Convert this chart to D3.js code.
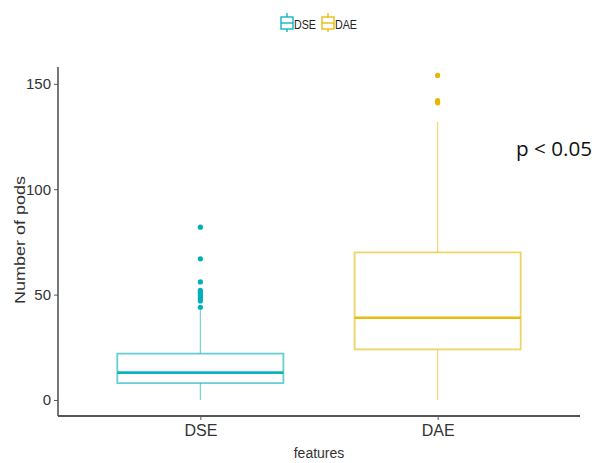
<!DOCTYPE html>
<html>
<head>
<meta charset="utf-8">
<script src="https://cdn.jsdelivr.net/npm/d3@7"></script>
<style>
  html, body { margin: 0; padding: 0; background: #fff; }
  svg { display: block; }
</style>
</head>
<body>
<svg id="chart" width="592" height="463"></svg>
<script>
// Summary statistics per group
const categories = ["DSE", "DAE"];
const colors = ["#00AFBB", "#E7B800"];
const whiskerLow = [0, 0];
const q1 = [8, 24];
const median = [13, 39];
const q3 = [22, 70];
const whiskerHigh = [43, 132];
const outliers = [
  [44, 47, 48, 49, 50, 51, 52, 56, 67, 82],
  [141, 142, 154]
];
const yTicks = [0, 50, 100, 150];

const svg = d3.select("#chart");
const plotLeft = 58, plotRight = 580, plotTop = 67, plotBottom = 416;

const x = d3.scalePoint().domain(categories).range([plotLeft, plotRight]).padding(0.6);
const y = d3.scaleLinear().domain([-7.6, 158]).range([plotBottom, plotTop]);
const boxW = x.step() * 0.7;

const sans = "'Liberation Sans', Arial, sans-serif";

// Boxes
categories.forEach((c, i) => {
  const cx = x(c);
  const g = svg.append("g").attr("stroke", colors[i]).attr("fill", "none");
  // whiskers
  g.append("line").attr("x1", cx).attr("x2", cx)
    .attr("y1", y(q3[i])).attr("y2", y(whiskerHigh[i]))
    .attr("stroke-width", 1.2).attr("stroke-opacity", 0.55);
  g.append("line").attr("x1", cx).attr("x2", cx)
    .attr("y1", y(q1[i])).attr("y2", y(whiskerLow[i]))
    .attr("stroke-width", 1.2).attr("stroke-opacity", 0.55);
  // box
  g.append("rect")
    .attr("x", cx - boxW / 2).attr("width", boxW)
    .attr("y", y(q3[i])).attr("height", y(q1[i]) - y(q3[i]))
    .attr("stroke-width", 1.8).attr("stroke-opacity", 0.6);
  // median
  g.append("line")
    .attr("x1", cx - boxW / 2).attr("x2", cx + boxW / 2)
    .attr("y1", y(median[i])).attr("y2", y(median[i]))
    .attr("stroke-width", 2.6).attr("stroke-opacity", 0.95);
  // outliers
  svg.append("g").selectAll("circle").data(outliers[i]).join("circle")
    .attr("cx", cx).attr("cy", d => y(d)).attr("r", 2.6)
    .attr("fill", colors[i]);
});

// Y axis
const yAxis = svg.append("g").attr("transform", `translate(${plotLeft},0)`)
  .call(d3.axisLeft(y).tickValues(yTicks).tickSize(4).tickPadding(3));
yAxis.select(".domain").attr("d", `M0,${plotTop}V${plotBottom}`).attr("stroke", "#555").attr("stroke-width", 1.6);
yAxis.selectAll(".tick line").attr("stroke", "#555");
yAxis.selectAll(".tick text").attr("font-size", 15).attr("fill", "#333")
  .attr("font-family", sans);

// X axis
const xAxis = svg.append("g").attr("transform", `translate(0,${plotBottom})`)
  .call(d3.axisBottom(x).tickSize(4).tickPadding(5));
xAxis.select(".domain").attr("d", `M${plotLeft},0H${plotRight}`).attr("stroke", "#555").attr("stroke-width", 1.8);
xAxis.selectAll(".tick line").attr("stroke", "#555");
xAxis.selectAll(".tick text").attr("font-size", 16).attr("fill", "#333")
  .attr("font-family", sans);

// Axis titles
svg.append("text").attr("transform", "translate(25,240) rotate(-90)")
  .attr("text-anchor", "middle").attr("font-family", sans)
  .attr("font-size", 15).attr("fill", "#333")
  .attr("textLength", 128).attr("lengthAdjust", "spacingAndGlyphs")
  .text("Number of pods");
svg.append("text").attr("x", (plotLeft + plotRight) / 2).attr("y", 458)
  .attr("text-anchor", "middle").attr("font-family", sans)
  .attr("font-size", 14).attr("fill", "#333").text("features");

// Annotation
svg.append("text").attr("x", 516).attr("y", 156)
  .attr("font-family", "'Open Sans', 'DejaVu Sans', sans-serif")
  .attr("font-size", 20).attr("fill", "#111")
  .attr("textLength", 76).attr("lengthAdjust", "spacingAndGlyphs")
  .text("p < 0.05");

// Legend
const legendX = [287, 328];
categories.forEach((c, i) => {
  const lx = legendX[i];
  const g = svg.append("g").attr("stroke", colors[i]).attr("fill", "none").attr("stroke-width", 1.3);
  g.append("line").attr("x1", lx).attr("x2", lx).attr("y1", 13).attr("y2", 32);
  g.append("rect").attr("x", lx - 6).attr("y", 17).attr("width", 12).attr("height", 12).attr("fill", "#fff");
  g.append("line").attr("x1", lx - 6).attr("x2", lx + 6).attr("y1", 23).attr("y2", 23);
  svg.append("text").attr("x", lx + 7).attr("y", 28.5)
    .attr("font-family", sans).attr("font-size", 13).attr("fill", "#222")
    .attr("textLength", 22).attr("lengthAdjust", "spacingAndGlyphs")
    .text(c);
});
</script>
</body>
</html>
